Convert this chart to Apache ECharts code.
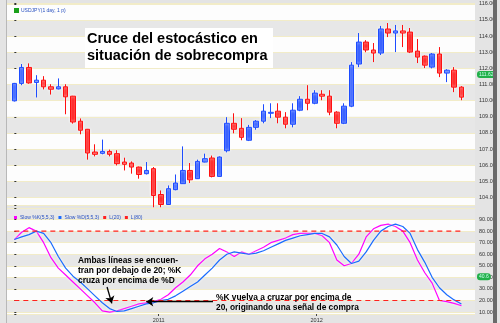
<!DOCTYPE html>
<html><head><meta charset="utf-8">
<script src="https://cdn.jsdelivr.net/npm/echarts@6/dist/echarts.min.js"></script>
<style>html,body{margin:0;padding:0;background:#e4e4e4}#c{width:500px;height:323px}</style>
</head><body><div id="c"></div>
<script>
const priceName = 'USDJPY(1 day, 1 p)';
const kName = 'Slow %K(5,5,3)';
const dName = 'Slow %D(5,5,3)';
// [open, close, low, high]
const ohlc = [
 [109.99,111.07,109.95,111.10],[111.07,112.06,110.96,112.27],[112.06,111.10,111.05,112.31],[111.13,111.27,110.20,111.58],
 [111.27,110.86,110.70,111.52],[110.86,110.71,110.38,111.02],[110.73,110.86,110.70,111.38],[110.86,110.24,109.16,111.02],
 [110.28,108.68,108.58,110.30],[108.73,108.17,107.92,108.90],[108.23,106.76,106.35,108.25],[106.82,106.68,106.55,107.30],
 [106.74,106.86,106.68,107.59],[106.86,106.68,106.55,106.97],[106.72,106.10,105.99,106.93],[106.20,106.06,105.68,106.47],
 [106.14,105.89,105.48,106.24],[105.89,105.43,105.17,105.92],[105.48,105.68,105.43,106.20],[105.79,104.13,103.40,105.89],
 [104.19,103.57,103.40,104.44],[103.57,104.55,103.55,104.75],[104.49,104.90,104.45,105.43],[104.86,105.68,104.85,107.17],
 [105.68,105.10,104.90,106.14],[105.17,106.24,105.15,106.35],[106.20,106.41,106.18,106.72],[106.45,105.31,105.25,106.60],
 [105.31,106.51,105.30,106.55],[106.90,108.60,106.80,108.98],[108.60,108.23,107.98,109.22],[108.29,107.73,107.55,108.92],
 [107.55,108.35,107.50,108.50],[108.35,108.73,108.20,108.80],[108.73,109.35,108.60,109.78],[109.22,109.28,108.92,109.84],
 [109.35,108.98,108.60,109.84],[108.98,108.54,108.29,109.29],[108.54,109.41,108.35,109.84],[109.41,110.09,109.35,110.28],
 [110.09,109.84,109.41,110.96],[109.84,110.47,109.78,110.65],[110.40,110.28,110.03,110.65],[110.28,109.29,109.10,110.65],
 [109.29,108.60,108.29,109.35],[108.60,109.66,108.55,109.84],[109.66,112.20,109.60,112.39],[112.27,113.63,112.08,114.19],
 [113.63,113.14,113.00,113.75],[113.14,112.95,112.39,113.57],[112.95,114.44,112.83,114.63],[114.44,114.19,113.94,114.81],
 [114.19,114.32,113.01,114.69],[114.32,114.19,113.32,114.69],[114.25,113.01,112.95,114.50],[113.07,112.70,112.33,113.82],
 [112.76,112.20,112.02,112.80],[112.08,112.89,112.00,112.95],[112.89,111.71,111.46,113.32],[111.71,111.89,111.15,111.95],
 [111.89,110.84,110.53,112.08],[110.84,110.22,110.03,110.90]
];
const slowK = [72.7,79,83,80,70,57,48,42,36,30,24,18,11,10,11,13,15,17,18,19,21,25,31,36,42,50,56,60,65,62,58,62,60,63,66,70,72,74,77,78,78,78,76,70,55,50,52,60,75,82,85,86,84,80,70,55,44,35,20,19,17.5,15.5];
const slowD = [72.7,75,77,80,78,70,58,48,41,36,30,24,18,13,10.5,11,13,15,17,18,20,21,24,28,32,36,42,48,55,60,62,61,60,61,63,66,69,72,74,76,77,78,78,75,68,58,52,54,62,72,80,84,86,84,78,64,53,40,31,25,20.5,17];
const levels = [20, 80];
const levelNames = ['L(20)', 'L(80)'];
const axisLabels = ['2011', '2012'];
const axisLabelPos = [19.7, 41.25];
const priceTag = 111.62;
const stochTag = 40.6;

const candleData = ohlc.map((d, i) => [i].concat(d));
const kData = slowK.map((v, i) => [i, v]);
const dData = slowD.map((v, i) => [i, v]);
const last = ohlc.length - 1;

const chart = echarts.init(document.getElementById('c'), null, {renderer: 'canvas'});
const axisFont = {fontSize: 5.5, color: '#333', fontFamily: 'Liberation Sans'};
const fmt2 = v => (Math.abs(v - Math.round(v)) < 1e-6 ? v.toFixed(2) : '');
const halo = {shadowColor: 'rgba(255,255,255,0.95)', shadowBlur: 3};
chart.setOption({
  animation: false,
  backgroundColor: '#e4e4e4',
  textStyle: {fontFamily: 'Liberation Sans'},
  axisPointer: {triggerOn: 'none'},
  legend: [
    {left: 9, top: 3, itemWidth: 3, itemHeight: 3, itemGap: 4, icon: 'rect',
     textStyle: {fontSize: 5, color: '#2850c0', padding: [0,0,0,-2]},
     data: [{name: priceName, itemStyle: {color: '#1aa01a', borderColor: '#1aa01a', color0: '#1aa01a', borderColor0: '#1aa01a'}}]},
    {left: 9, top: 210, itemWidth: 3, itemHeight: 3, itemGap: 4, icon: 'rect',
     textStyle: {fontSize: 5, color: '#2850c0', padding: [0,0,0,-2]},
     data: [{name: kName}, {name: dName}, {name: levelNames[0]}, {name: levelNames[1]}]}
  ],
  grid: [
    {left: 7, right: 25, top: 3, height: 202},
    {left: 7, right: 25, top: 208, height: 108}
  ],
  xAxis: [
    {type: 'value', gridIndex: 0, min: -1, max: 62.85, show: false},
    {type: 'value', gridIndex: 1, min: -1, max: 62.85,
     axisLine: {show: false}, splitLine: {show: false},
     axisTick: {show: true, customValues: axisLabelPos, length: 2, lineStyle: {color: '#444'}},
     axisLabel: Object.assign({customValues: axisLabelPos, margin: 3,
       formatter: v => axisLabels[axisLabelPos.indexOf(v)] || ''}, axisFont)}
  ],
  yAxis: [
    {type: 'value', gridIndex: 0, position: 'right', min: 103.54, max: 116.05, splitNumber: 12, scale: true,
     axisLine: {show: false},
     axisTick: {show: true, length: 2, lineStyle: {color: '#333'}},
     axisLabel: Object.assign({margin: 4, formatter: fmt2}, axisFont),
     splitLine: {show: true, lineStyle: {color: '#f2ecc8', width: 1}},
     splitArea: {show: true, areaStyle: {color: ['#fdfdfd', '#e7e7e7']}},
     axisPointer: {show: true, status: 'show', value: priceTag, triggerTooltip: false,
       lineStyle: {opacity: 0},
       label: {show: true, backgroundColor: '#22b04a', color: '#cfe', fontSize: 5, padding: [1, 2], margin: 2,
         formatter: p => p.value.toFixed(2)}}},
    {type: 'value', gridIndex: 1, position: 'right', min: 8.3, max: 100, splitNumber: 9,
     axisLine: {show: false},
     axisTick: {show: true, length: 2, lineStyle: {color: '#333'}},
     axisLabel: Object.assign({margin: 4, formatter: v => (v % 10 === 0 && v < 100 ? v.toFixed(2) : '')}, axisFont),
     splitLine: {show: true, lineStyle: {color: '#f2ecc8', width: 1}},
     splitArea: {show: true, areaStyle: {color: ['#fdfdfd', '#e7e7e7']}},
     axisPointer: {show: true, status: 'show', value: stochTag, triggerTooltip: false,
       lineStyle: {opacity: 0},
       label: {show: true, backgroundColor: '#22b04a', color: '#cfe', fontSize: 5, padding: [1, 2], margin: 2,
         formatter: p => p.value.toFixed(1)}}}
  ],
  series: [
    {name: priceName, type: 'candlestick', xAxisIndex: 0, yAxisIndex: 0, barWidth: 5,
     itemStyle: Object.assign({color: '#1d4cff', color0: '#ff1010', borderColor: '#1d4cff', borderColor0: '#ff1010', borderWidth: 1}, halo),
     data: candleData},
    {name: kName, type: 'line', xAxisIndex: 1, yAxisIndex: 1, data: kData, showSymbol: false,
     itemStyle: {color: '#ff00ff'}, lineStyle: Object.assign({color: '#ff00ff', width: 1.2}, halo),
     markLine: {silent: true, symbol: ['none', 'arrow'], symbolSize: 7,
       lineStyle: {color: '#000', width: 1.3, type: 'solid', shadowBlur: 0},
       label: {show: false},
       data: [
         [{coord: [12.65, 31.7]}, {coord: [13.3, 17.5]}],
         [{coord: [27.1, 18.9]}, {coord: [18.0, 18.9]}]
       ]}},
    {name: dName, type: 'line', xAxisIndex: 1, yAxisIndex: 1, data: dData, showSymbol: false,
     itemStyle: {color: '#1a6cff'}, lineStyle: Object.assign({color: '#1a6cff', width: 1.2}, halo)},
    {name: levelNames[0], type: 'line', xAxisIndex: 1, yAxisIndex: 1, showSymbol: false,
     data: [[0, levels[0]], [last, levels[0]]],
     itemStyle: {color: '#ff2020'}, lineStyle: {color: '#ff2020', width: 1.2, type: [5, 4]}},
    {name: levelNames[1], type: 'line', xAxisIndex: 1, yAxisIndex: 1, showSymbol: false,
     data: [[0, levels[1]], [last, levels[1]]],
     itemStyle: {color: '#ff2020'}, lineStyle: {color: '#ff2020', width: 1.2, type: [5, 4]}}
  ],
  graphic: [
    {type: 'rect', shape: {x: 6, y: 0, width: 1, height: 323}, style: {fill: '#b8b8b8'}, z: 100},
    {type: 'rect', shape: {x: 493, y: 0, width: 4, height: 323}, style: {fill: '#6a6a6a'}, z: 100},
    {type: 'rect', shape: {x: 85, y: 28, width: 188, height: 40}, style: {fill: '#ffffff'}, z: 100},
    {type: 'text', x: 87, y: 30, z: 101, style: {text: 'Cruce del estocástico en\nsituación de sobrecompra',
      font: 'bold 14.5px "Liberation Sans"', fill: '#000', lineHeight: 17}},
    {type: 'text', x: 78, y: 256, z: 101, style: {text: 'Ambas líneas se encuen-\ntran por debajo de 20; %K\ncruza por encima de %D',
      font: 'bold 8.4px "Liberation Sans"', fill: '#000', lineHeight: 10}},
    {type: 'text', x: 216, y: 292, z: 101, style: {text: '%K vuelva a cruzar por encima de\n20, originando una señal de compra',
      font: 'bold 8.4px "Liberation Sans"', fill: '#000', lineHeight: 10.5}}
  ]
});
</script></body></html>
